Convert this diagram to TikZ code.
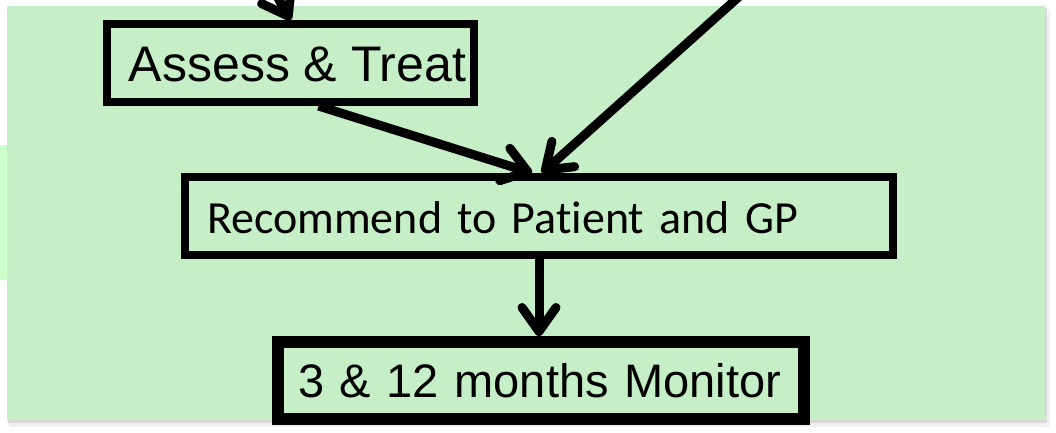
\documentclass[tikz,border=0pt]{standalone}
\usepackage{fontspec}
\setmainfont{Liberation Sans}
\newfontfamily\calfont[Ligatures={NoCommon}]{Carlito}
\usetikzlibrary{arrows.meta}
\definecolor{bggreen}{RGB}{198,239,199}
\definecolor{stripgreen}{RGB}{204,255,204}
\begin{document}
\begin{tikzpicture}[x=1pt,y=-1pt,
  box/.style={draw=black, fill=bggreen, rectangle, inner ysep=0pt, text depth=0pt},
  arr/.style={line width=9pt, -{Straight Barb[length=24pt,width=34pt,round]}}]
\useasboundingbox (0,0) rectangle (1056,432);
\clip (0,0) rectangle (1056,432);
% background panel
\fill[stripgreen] (0,145) rectangle (20,280);
\fill[gray!12] (9,10) rectangle (1050,427);
\fill[gray!30] (8,8) rectangle (1047,423);
\fill[bggreen] (7,6) rectangle (1045,420);
% boxes
\node[box, line width=8pt, minimum width=367pt, minimum height=78pt, text height=36pt,
      font=\fontsize{50}{60}\selectfont] (assess) at (290.5,63) {\hspace*{14pt}Assess \& Treat};
\node[box, line width=8pt, minimum width=708pt, minimum height=78pt, text height=34pt,
      inner xsep=22pt, text width=664pt, align=left,
      font=\calfont\fontsize{46}{55}\selectfont] (rec) at (539,216) {Recommend to Patient and GP};
\node[box, line width=12pt, minimum width=526pt, minimum height=77pt, text height=33pt,
      inner xsep=20pt, text width=486pt, align=left,
      font=\fontsize{47}{56}\selectfont] (mon) at (541,380.5) {3 \& 12 months Monitor};
% connectors
\coordinate (in1) at (245,-60);
\coordinate (in2) at (752,-15);
\draw[arr] (in1) -- (assess.north);
\draw[arr] (in2) -- ([xshift=3pt]rec.north);
\draw[arr] ([xshift=28pt]assess.south) -- ([xshift=-7pt]rec.north);
\draw[arr] (rec.south) -- (rec.south |- mon.north);
\end{tikzpicture}
\end{document}
